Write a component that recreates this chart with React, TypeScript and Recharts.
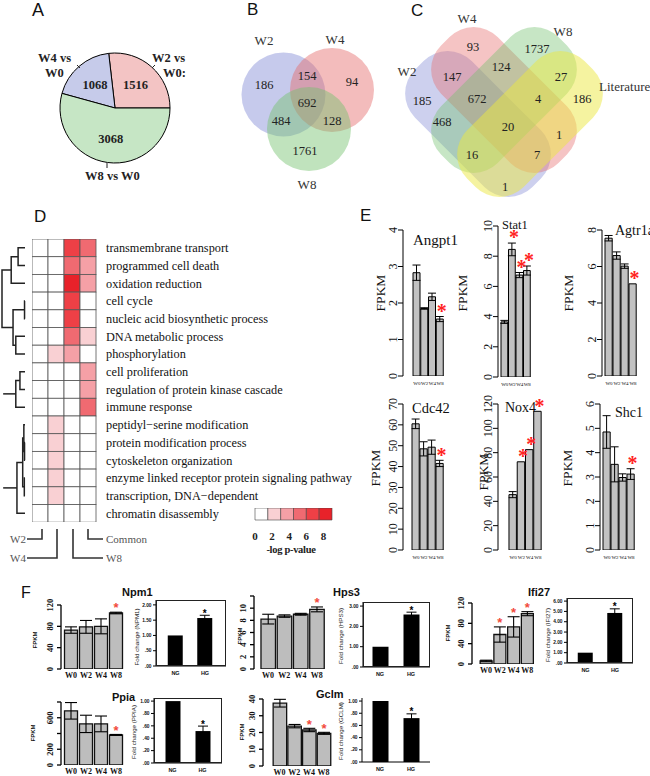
import React from "react";
import {
  PieChart, Pie, Cell, BarChart, Bar, XAxis, YAxis, ErrorBar, LabelList,
  ScatterChart, Scatter,
} from "recharts";

const SERIF = "'Liberation Serif', 'Times New Roman', serif";
const SANS = "'Liberation Sans', Arial, sans-serif";

// ---------- A: DEG counts per comparison
const pieNames = ["W2 vs W0", "W4 vs W0", "W8 vs W0"];
const pieValues = [1516, 1068, 3068];
const pieColors = ["#f3c4c4", "#c6cbea", "#c6e6c5"];

// ---------- B: 3-set venn
const vennBSets = ["W2", "W4", "W8"];
const vennBColors = ["#8189d5", "#e56b6b", "#73c16d"];
const vennBRegions = ["W2", "W2 W4", "W4", "W2 W4 W8", "W2 W8", "W4 W8", "W8"];
const vennBCounts = [186, 154, 94, 692, 484, 128, 1761];

// ---------- C: 4-set venn
const vennCSets = ["W2", "W4", "W8", "Literature"];
const vennCColors = ["#8189d5", "#e56b6b", "#73c16d", "#ebe741"];
const vennCRegions = [
  "W4", "W8", "W4 W8", "W2 W4", "W8 Lit", "W2", "W2 W4 W8", "W4 W8 Lit",
  "Lit", "W2 W8", "all", "W4 Lit", "W2 W8 Lit", "W2 W4 Lit", "W2 Lit",
];
const vennCCounts = [93, 1737, 124, 147, 27, 185, 672, 4, 186, 468, 20, 1, 16, 7, 1];

// ---------- D: GO enrichment (-log p)
const goTerms = [
  "transmembrane transport",
  "programmed cell death",
  "oxidation reduction",
  "cell cycle",
  "nucleic acid biosynthetic process",
  "DNA metabolic process",
  "phosphorylation",
  "cell proliferation",
  "regulation of protein kinase cascade",
  "immune response",
  "peptidyl\u2212serine modification",
  "protein modification process",
  "cytoskeleton organization",
  "enzyme linked receptor protein signaling pathway",
  "transcription, DNA\u2212dependent",
  "chromatin disassembly",
];
const goColumns = ["W2", "W4", "W8", "Common"];
const goW2 = [0, 0, 0, 0, 0, 0, 0, 0, 0, 0, 0, 0, 0, 0, 0, 0];
const goW4 = [0, 0, 0, 0, 0, 0, 2, 0, 0, 0, 2, 2, 2, 2, 2, 0];
const goW8 = [7, 5.5, 8.5, 7, 7, 5.5, 4, 0, 0, 0, 0, 0, 0, 0, 0, 0];
const goCommon = [5.5, 4, 4, 0, 0, 2, 0, 4, 4, 5.5, 0, 0, 0, 0, 0, 0];
const heatBreaks = [0, 1.5, 3, 4.5, 6, 7.5, 9];
const heatColors = ["#ffffff", "#f9d0d3", "#f5a0a6", "#f06a71", "#ee4046", "#e8222a"];
const legendTicks = [0, 2, 4, 6, 8];
// hclust-style merges: negative = row, positive = earlier merge; third = height
const dendroMerges = [
  [-1, -2, 0.3], [1, -3, 0.6], [-4, -5, 0.02], [-6, -7, 0.4], [3, 4, 0.52], [2, 5, 1.0],
  [-8, -9, 0.22], [7, -10, 0.4],
  [-12, -13, 0.02], [-14, -15, 0.03], [-11, 9, 0.05], [11, 10, 0.1], [12, -16, 0.35],
];
const dendroStems = [[8, 0.95], [13, 0.95]];

// ---------- E: FPKM bars
const eCats = ["W0", "W2", "W4", "W8"];
const angpt1 = [2.83, 1.85, 2.17, 1.56];
const angpt1Err = [0.21, 0.02, 0.1, 0.07];
const angpt1Sig = [0, 0, 0, 1];
const stat1 = [3.65, 8.45, 6.75, 7.05];
const stat1Err = [0.1, 0.42, 0.17, 0.3];
const stat1Sig = [0, 1, 1, 1];
const agtr1a = [7.55, 6.6, 6.02, 5.05];
const agtr1aErr = [0.15, 0.2, 0.12, 0];
const agtr1aSig = [0, 0, 0, 1];
const cdc42 = [60.5, 48.5, 49.3, 41.5];
const cdc42Err = [2.3, 3.4, 3.4, 1.5];
const cdc42Sig = [0, 0, 0, 1];
const nox4 = [45.5, 72.5, 82.5, 114];
const nox4Err = [2.5, 0, 0, 0];
const nox4Sig = [0, 1, 1, 1];
const shc1 = [4.85, 3.52, 2.98, 3.12];
const shc1Err = [0.67, 0.72, 0.15, 0.22];
const shc1Sig = [0, 0, 0, 1];

// ---------- F: FPKM + qPCR fold change
const fCats = ["W0", "W2", "W4", "W8"];
const npm1 = [73, 79, 80, 105];
const npm1Err = [6, 12, 14, 1.5];
const npm1Sig = [0, 0, 0, 1];
const hps3 = [8.2, 8.7, 9.0, 9.8];
const hps3Err = [0.8, 0.2, 0.15, 0.4];
const hps3Sig = [0, 0, 0, 1];
const ifi27 = [6, 58, 73, 99];
const ifi27Err = [1.5, 15, 20, 4];
const ifi27Sig = [0, 1, 1, 1];
const ppia = [688, 522, 522, 382];
const ppiaErr = [105, 110, 100, 6];
const ppiaSig = [0, 0, 0, 1];
const gclm = [37.5, 23.8, 21.5, 19.5];
const gclmErr = [2.3, 1, 1, 0.6];
const gclmSig = [0, 0, 1, 1];

const foldCats = ["NG", "HG"];
const npm1Fold = [1, 1.57];
const npm1FoldErr = [0, 0.09];
const hps3Fold = [1, 2.58];
const hps3FoldErr = [0, 0.12];
const ifi27Fold = [1, 4.85];
const ifi27FoldErr = [0, 0.4];
const ppiaFold = [1, 0.516];
const ppiaFoldErr = [0, 0.08];
const gclmFold = [1, 0.72];
const gclmFoldErr = [0, 0.07];
const foldSig = [0, 1];

// ---------- layout (page px)
const VB_CIRCLES = [[283.5, 94.5], [332, 90], [309, 129]];
const VB_R = 42;
const VB_COUNT_POS = [[264, 85], [307, 76], [352, 82], [307, 103], [281, 121], [332, 121], [305, 151]];
const VC_SHAPES = [[478, 124, 45], [504, 100, 45], [504, 100, -45], [530, 124, -45]];
const VC_COUNT_POS = [
  [473, 47], [537, 49], [501, 67], [452, 77], [561, 77], [422, 101], [477, 99], [538, 99],
  [582, 99], [442, 122], [508, 127], [559, 135], [472, 155], [537, 155], [505, 187],
];
const CELL_W = 16;
const CELL_H = 17.7;

const heatColor = (v: number) => {
  let i = 0;
  while (i < heatColors.length - 1 && v >= heatBreaks[i + 1]) i++;
  return heatColors[i];
};

const abs = (left: number, top: number): React.CSSProperties => ({ position: "absolute", left, top });

function PanelA() {
  const data = pieValues.map((v, i) => ({ name: pieNames[i], value: v }));
  const RAD = Math.PI / 180;
  const label = (p: any) => {
    const r = p.outerRadius * 0.56;
    const x = p.cx + r * Math.cos(-p.midAngle * RAD);
    const y = p.cy + r * Math.sin(-p.midAngle * RAD);
    return (
      <text x={x} y={y} textAnchor="middle" dominantBaseline="central" fontFamily={SERIF}
        fontWeight="bold" fontSize={12.5} fill="#222">{p.value}</text>
    );
  };
  return (
    <div style={abs(55, 48)}>
      <PieChart width={120} height={120} margin={{ top: 0, right: 0, bottom: 0, left: 0 }}>
        <Pie data={data} dataKey="value" nameKey="name" cx={60} cy={60} outerRadius={55}
          startAngle={0} endAngle={360} stroke="#000" strokeWidth={1} labelLine={false}
          label={label} isAnimationActive={false}>
          {data.map((_, i) => <Cell key={i} fill={pieColors[i]} />)}
        </Pie>
      </PieChart>
    </div>
  );
}

function VennB() {
  const sets = vennBSets.map((s, i) => ({ x: VB_CIRCLES[i][0], y: VB_CIRCLES[i][1], set: s, color: vennBColors[i] }));
  const counts = vennBCounts.map((n, i) => ({ x: VB_COUNT_POS[i][0], y: VB_COUNT_POS[i][1], n, region: vennBRegions[i] }));
  return (
    <div style={abs(220, 0)}>
      <ScatterChart width={180} height={210} margin={{ top: 0, right: 0, bottom: 0, left: 0 }}>
        <XAxis type="number" dataKey="x" domain={[220, 400]} hide />
        <YAxis type="number" dataKey="y" domain={[0, 210]} reversed hide />
        <Scatter data={sets} isAnimationActive={false}
          shape={(p: any) => <circle cx={p.cx} cy={p.cy} r={VB_R} fill={p.payload.color} fillOpacity={0.45} />} />
        <Scatter data={counts} isAnimationActive={false}
          shape={(p: any) => (
            <text x={p.cx} y={p.cy} textAnchor="middle" dominantBaseline="central" fontFamily={SERIF}
              fontSize={12.5} fill="#222">{p.payload.n}</text>
          )} />
      </ScatterChart>
    </div>
  );
}

function VennC() {
  const sets = vennCSets.map((s, i) => ({ x: VC_SHAPES[i][0], y: VC_SHAPES[i][1], a: VC_SHAPES[i][2], set: s, color: vennCColors[i] }));
  const counts = vennCCounts.map((n, i) => ({ x: VC_COUNT_POS[i][0], y: VC_COUNT_POS[i][1], n, region: vennCRegions[i] }));
  return (
    <div style={abs(380, 0)}>
      <ScatterChart width={270} height={220} margin={{ top: 0, right: 0, bottom: 0, left: 0 }}>
        <XAxis type="number" dataKey="x" domain={[380, 650]} hide />
        <YAxis type="number" dataKey="y" domain={[0, 220]} reversed hide />
        <Scatter data={sets} isAnimationActive={false}
          shape={(p: any) => (
            <rect x={-83} y={-40} width={166} height={80} rx={34} ry={34}
              transform={`translate(${p.cx},${p.cy}) rotate(${p.payload.a})`}
              fill={p.payload.color} fillOpacity={p.payload.set === "Literature" ? 0.5 : 0.4} />
          )} />
        <Scatter data={counts} isAnimationActive={false}
          shape={(p: any) => (
            <text x={p.cx} y={p.cy} textAnchor="middle" dominantBaseline="central" fontFamily={SERIF}
              fontSize={12.5} fill="#222">{p.payload.n}</text>
          )} />
      </ScatterChart>
    </div>
  );
}

function PanelD() {
  const cols = [goW2, goW4, goW8, goCommon];
  const cells = goTerms.flatMap((t, r) => goColumns.map((c, ci) => ({ r, c: ci, term: t, col: c, v: cols[ci][r] })));
  const plotH = goTerms.length * CELL_H;
  const plotW = goColumns.length * CELL_W;

  const pos: { y: number; h: number }[] = [];
  const get = (k: number) => (k < 0 ? { y: -k - 1, h: 0 } : pos[k - 1]);
  const links = dendroMerges.map(([a, b, h]) => {
    const A = get(a);
    const B = get(b);
    pos.push({ y: (A.y + B.y) / 2, h });
    return [{ h: A.h, y: A.y }, { h, y: A.y }, { h, y: B.y }, { h: B.h, y: B.y }];
  });
  dendroStems.forEach(([k, h]) => {
    const N = pos[k - 1];
    links.push([{ h: N.h, y: N.y }, { h, y: N.y }]);
  });

  const legendRow: any = { k: "scale" };
  heatColors.forEach((_, i) => { legendRow[`b${i}`] = heatBreaks[i + 1] - heatBreaks[i]; });

  const termTick = (tp: any) => (
    <text x={tp.x} y={tp.y} dy="0.35em" textAnchor="start" fontFamily={SERIF} fontSize={12.3} fill="#111">
      {goTerms[tp.payload.value]}
    </text>
  );

  return (
    <>
      <div style={abs(0, 239)}>
        <ScatterChart width={28} height={plotH} margin={{ top: 0, right: 3, bottom: 0, left: 2 }}>
          <XAxis type="number" dataKey="h" domain={[0, 1]} reversed hide />
          <YAxis type="number" dataKey="y" domain={[-0.5, goTerms.length - 0.5]} reversed hide />
          {links.map((l, i) => (
            <Scatter key={i} data={l} line={{ stroke: "#222", strokeWidth: 1.5 }}
              shape={() => <g />} isAnimationActive={false} />
          ))}
        </ScatterChart>
      </div>
      <div style={abs(32, 239)}>
        <ScatterChart width={plotW + 290} height={plotH} margin={{ top: 0, right: 0, bottom: 0, left: 0 }}>
          <XAxis type="number" dataKey="c" domain={[-0.5, goColumns.length - 0.5]} hide />
          <YAxis type="number" dataKey="r" domain={[-0.5, goTerms.length - 0.5]} reversed
            orientation="right" width={290} ticks={goTerms.map((_, i) => i)} interval={0}
            axisLine={false} tickLine={false} tickSize={0} tickMargin={10} tick={termTick} />
          <Scatter data={cells} isAnimationActive={false}
            shape={(p: any) => (
              <rect x={p.cx - CELL_W / 2} y={p.cy - CELL_H / 2} width={CELL_W} height={CELL_H}
                fill={heatColor(p.payload.v)} stroke="#555" strokeWidth={0.8} />
            )} />
        </ScatterChart>
      </div>
      <div style={abs(245, 508)}>
        <BarChart width={97} height={50} layout="vertical" data={[legendRow]} barCategoryGap={0}
          margin={{ top: 0, right: 10, bottom: 0, left: 10 }}>
          <XAxis type="number" domain={[heatBreaks[0], heatBreaks[heatBreaks.length - 1]]} ticks={legendTicks}
            interval={0} height={38} axisLine={false} tickLine={false} tickSize={0} tickMargin={12}
            tick={{ fontSize: 11, fontFamily: SERIF, fontWeight: "bold", fill: "#222" }} />
          <YAxis type="category" dataKey="k" hide />
          {heatColors.map((c, i) => (
            <Bar key={i} dataKey={`b${i}`} stackId="l" fill={c} stroke="#444" strokeWidth={0.6}
              isAnimationActive={false} />
          ))}
        </BarChart>
      </div>
    </>
  );
}

type Kind = "R" | "F" | "fold";
const STY: Record<Kind, any> = {
  R: { fill: "#c2c2c2", stroke: "#000", sw: 1, cap: 4, errW: 1, tickSize: 5, tickMargin: 1, tickFont: SERIF,
    tickFs: 12, tickBold: "normal", rotate: true, xFs: 5, xFont: SERIF, xBold: "normal", xMargin: 5,
    xLine: false, starColor: "#ff2222", starFs: 20, starFont: SERIF, starOff: 0.47, starDX: 2, starGap: 8, axisW: 1 },
  F: { fill: "#bdbdbd", stroke: "#111", sw: 1.3, cap: 6, errW: 1.1, tickSize: 4, tickMargin: 4, tickFont: SERIF,
    tickFs: 8.5, tickBold: "bold", rotate: true, xFs: 8, xFont: SERIF, xBold: "bold", xMargin: 3,
    xLine: false, starColor: "#f24a3c", starFs: 13, starFont: SANS, starOff: 0.56, starDX: 0, starGap: 7, axisW: 1.3 },
  fold: { fill: "#000", stroke: "#000", sw: 0, cap: 5, errW: 1, tickSize: 3, tickMargin: 1.5, tickFont: SANS,
    tickFs: 4.8, tickBold: "bold", rotate: false, xFs: 5.5, xFont: SANS, xBold: "bold", xMargin: 5,
    xLine: true, starColor: "#000", starFs: 10, starFont: SANS, starOff: 0.56, starDX: 0, starGap: 4, axisW: 1 },
};

const fmtFold = (v: number) => {
  const s = v.toFixed(2);
  return v < 1 ? s.slice(1) : s;
};

const ML = 44, MT = 40, MR = 20, MB = 22;

function BarPanel(p: any) {
  const st = STY[p.kind as Kind];
  const n = p.cats.length;
  const plotW = p.rightX - p.axisX;
  const plotH = p.zeroY - p.topY;
  const padL = p.c0 - p.step / 2 - p.axisX;
  const padR = plotW - padL - n * p.step;
  const ppu = plotH / p.yTop;
  const data = p.cats.map((c: string, i: number) => ({ name: c, value: p.values[i], err: p.errs[i], sig: p.sig[i] }));

  const yTick = (tp: any) => {
    const v = tp.payload.value;
    if (p.shown && !p.shown.includes(v)) return <g />;
    const label = p.kind === "fold" ? fmtFold(v) : String(v);
    if (st.rotate) {
      return (
        <text x={tp.x} y={tp.y} transform={`rotate(-90 ${tp.x} ${tp.y})`} textAnchor="middle"
          fontFamily={st.tickFont} fontSize={st.tickFs} fontWeight={st.tickBold} fill="#111">{label}</text>
      );
    }
    return (
      <text x={tp.x} y={tp.y} dy="0.35em" textAnchor="end" fontFamily={st.tickFont} fontSize={st.tickFs}
        fontWeight={st.tickBold} fill="#111">{label}</text>
    );
  };

  const star = (lp: any) => {
    if (!lp.value) return null;
    const d = data[lp.index];
    const cx = lp.x + lp.width / 2 + st.starDX;
    const cy = lp.y - d.err * ppu - st.starGap;
    return (
      <text x={cx} y={cy + st.starOff * st.starFs} textAnchor="middle" fontFamily={st.starFont}
        fontSize={st.starFs} fontWeight="bold" fill={st.starColor}>*</text>
    );
  };

  return (
    <div style={abs(p.axisX - ML, p.topY - MT)}>
      <BarChart width={ML + plotW + MR} height={MT + plotH + MB} data={data}
        margin={{ top: MT, right: MR, left: 0, bottom: 0 }}>
        <XAxis dataKey="name" type="category" padding={{ left: padL, right: padR }} height={MB} interval={0}
          axisLine={st.xLine ? { stroke: "#000", strokeWidth: st.axisW } : false} tickLine={false}
          tickSize={0} tickMargin={st.xMargin}
          tick={{ fontSize: st.xFs, fontFamily: st.xFont, fontWeight: st.xBold, fill: "#111" }} />
        <YAxis type="number" domain={[0, p.yTop]} ticks={p.ticks} interval={0} allowDataOverflow width={ML}
          axisLine={{ stroke: "#000", strokeWidth: st.axisW }} tickLine={{ stroke: "#000", strokeWidth: st.axisW }}
          tickSize={st.tickSize} tickMargin={st.tickMargin} tick={yTick} />
        <Bar dataKey="value" barSize={p.barW} fill={st.fill} stroke={st.stroke} strokeWidth={st.sw}
          isAnimationActive={false}>
          <ErrorBar dataKey="err" width={st.cap} stroke="#000" strokeWidth={st.errW} direction="y" />
          <LabelList dataKey="sig" content={star} />
        </Bar>
      </BarChart>
      {p.box && (
        <div style={{ position: "absolute", left: ML, top: MT, width: plotW, height: plotH,
          border: "1px solid #222", boxSizing: "border-box", pointerEvents: "none" }} />
      )}
    </div>
  );
}

function Overlay() {
  const rot = (x: number, y: number, t: string, fs: number, font: string, weight = "normal", fill = "#111") => (
    <text x={x} y={y} transform={`rotate(-90 ${x} ${y})`} textAnchor="middle" dominantBaseline="central"
      fontFamily={font} fontSize={fs} fontWeight={weight} fill={fill}>{t}</text>
  );
  return (
    <svg width={650} height={776} style={{ position: "absolute", left: 0, top: 0, pointerEvents: "none" }}>
      <g fontFamily={SANS} fontSize={17} fill="#111">
        <text x={32} y={16} fontSize={18}>A</text>
        <text x={247} y={15}>B</text>
        <text x={411} y={16}>C</text>
        <text x={34} y={222}>D</text>
        <text x={360} y={221}>E</text>
        <text x={21} y={598} fontSize={16}>F</text>
      </g>
      <g fontFamily={SERIF} fontSize={12.5} fontWeight="bold" fill="#222">
        <text x={38} y={62}>W4 vs</text>
        <text x={45} y={77}>W0</text>
        <text x={152} y={62}>W2 vs</text>
        <text x={163} y={77}>W0:</text>
        <text x={85} y={180}>W8 vs W0</text>
      </g>
      <g stroke="#222" strokeWidth={1}>
        <line x1={77} y1={65} x2={80} y2={68} />
        <line x1={152} y1={68} x2={155} y2={65} />
        <line x1={107} y1={163} x2={107} y2={168} />
      </g>
      <g fontFamily={SERIF} fontSize={13} fill="#333" textAnchor="middle">
        <text x={264} y={45}>W2</text>
        <text x={335} y={44}>W4</text>
        <text x={307} y={189}>W8</text>
        <text x={467} y={23}>W4</text>
        <text x={563} y={36}>W8</text>
        <text x={407} y={76}>W2</text>
        <text x={599} y={91} textAnchor="start">Literature</text>
      </g>
      <g stroke="#333" strokeWidth={1.6} fill="none">
        <path d="M27 539 H42 V529" />
        <path d="M27 558 H57 V529" />
        <path d="M73 529 V558 H103" />
        <path d="M88 529 V539 H103" />
      </g>
      <g fontFamily={SERIF} fontSize={11} fill="#555">
        <text x={26} y={543} textAnchor="end">W2</text>
        <text x={26} y={562} textAnchor="end">W4</text>
        <text x={106} y={562}>W8</text>
        <text x={106} y={543}>Common</text>
      </g>
      <text x={291} y={553} textAnchor="middle" fontFamily={SERIF} fontSize={10.5} fontWeight="bold"
        letterSpacing={-0.3} fill="#222">-log p-value</text>
      <g fontFamily={SERIF} fill="#111">
        <text x={413} y={245} fontSize={15}>Angpt1</text>
        <text x={502} y={229} fontSize={12.5}>Stat1</text>
        <text x={615} y={235} fontSize={14}>Agtr1a</text>
        <text x={412} y={413} fontSize={14.5}>Cdc42</text>
        <text x={505} y={412} fontSize={14}>Nox4</text>
        <text x={615} y={417} fontSize={14}>Shc1</text>
      </g>
      {rot(380, 293, "FPKM", 13.5, SERIF)}
      {rot(462, 293, "FPKM", 13.5, SERIF)}
      {rot(568, 293, "FPKM", 13.5, SERIF)}
      {rot(375, 468, "FPKM", 13.5, SERIF)}
      {rot(483, 472, "FPKM", 13.5, SERIF)}
      {rot(567, 468, "FPKM", 13.5, SERIF)}
      <g fontFamily={SANS} fontSize={11} fontWeight="bold" fill="#111">
        <text x={122} y={596}>Npm1</text>
        <text x={333} y={596}>Hps3</text>
        <text x={528} y={596}>Ifi27</text>
        <text x={112} y={701}>Ppia</text>
        <text x={316} y={698}>Gclm</text>
      </g>
      {rot(35, 640, "FPKM", 6, SANS, "bold")}
      {rot(240, 636, "FPKM", 6, SANS, "bold")}
      {rot(448, 633, "FPKM", 6, SANS, "bold")}
      {rot(33, 733, "FPKM", 6, SANS, "bold")}
      {rot(242, 732, "FPKM", 6, SANS, "bold")}
      {rot(136, 637, "Fold change (NPM1)", 6.2, SANS, "normal", "#222")}
      {rot(340, 636, "Fold change (HPS3)", 6.2, SANS, "normal", "#222")}
      {rot(547, 635, "Fold change (IFI27)", 6.2, SANS, "normal", "#222")}
      {rot(133, 732, "Fold change (PPIA)", 6.2, SANS, "normal", "#222")}
      {rot(340, 731, "Fold change (GCLM)", 6.2, SANS, "normal", "#222")}
    </svg>
  );
}

export default function App() {
  return (
    <div style={{ position: "absolute", left: 0, top: 0, width: 650, height: 776, background: "#fff", overflow: "hidden" }}>
      <PanelA />
      <VennB />
      <VennC />
      <PanelD />

      <BarPanel kind="R" cats={eCats} values={angpt1} errs={angpt1Err} sig={angpt1Sig} yTop={4} ticks={[0, 1, 2, 3, 4]}
        axisX={403} topY={230} zeroY={376} c0={416.9} step={7.75} barW={7.75} rightX={450} />
      <BarPanel kind="R" cats={eCats} values={stat1} errs={stat1Err} sig={stat1Sig} yTop={10} ticks={[0, 2, 4, 6, 8, 10]}
        axisX={498} topY={226} zeroY={377} c0={504.75} step={7.5} barW={7.5} rightX={536} />
      <BarPanel kind="R" cats={eCats} values={agtr1a} errs={agtr1aErr} sig={agtr1aSig} yTop={8} ticks={[0, 2, 4, 6, 8]}
        axisX={602} topY={230} zeroY={376} c0={609} step={8} barW={8} rightX={642} />
      <BarPanel kind="R" cats={eCats} values={cdc42} errs={cdc42Err} sig={cdc42Sig} yTop={70}
        ticks={[0, 10, 20, 30, 40, 50, 60, 70]}
        axisX={403} topY={404} zeroY={550} c0={416} step={8} barW={8} rightX={450} />
      <BarPanel kind="R" cats={eCats} values={nox4} errs={nox4Err} sig={nox4Sig} yTop={120}
        ticks={[0, 20, 40, 60, 80, 100, 120]}
        axisX={498} topY={404} zeroY={550} c0={513.1} step={8.25} barW={8.25} rightX={546} />
      <BarPanel kind="R" cats={eCats} values={shc1} errs={shc1Err} sig={shc1Sig} yTop={6} ticks={[0, 1, 2, 3, 4, 5, 6]}
        axisX={600} topY={404} zeroY={550} c0={607} step={8} barW={8} rightX={640} />

      <BarPanel kind="F" cats={fCats} values={npm1} errs={npm1Err} sig={npm1Sig} yTop={120} ticks={[0, 40, 80, 120]}
        axisX={61} topY={605} zeroY={669} c0={71} step={15} barW={13} rightX={125} />
      <BarPanel kind="fold" cats={foldCats} values={npm1Fold} errs={npm1FoldErr} sig={foldSig} yTop={2.16}
        ticks={[0, 0.5, 1, 1.5, 2]} box
        axisX={156} topY={600} zeroY={666} c0={175.5} step={29.5} barW={15} rightX={226} />
      <BarPanel kind="F" cats={fCats} values={hps3} errs={hps3Err} sig={hps3Sig} yTop={12}
        ticks={[0, 2, 4, 6, 8, 10, 12]} shown={[0, 2, 4, 6, 8, 10]}
        axisX={254} topY={596} zeroY={669} c0={268.1} step={16.25} barW={14.5} rightX={328} />
      <BarPanel kind="fold" cats={foldCats} values={hps3Fold} errs={hps3FoldErr} sig={foldSig} yTop={3.2}
        ticks={[0, 1, 2, 3]} box
        axisX={363} topY={602} zeroY={667} c0={380} step={31} barW={16} rightX={430} />
      <BarPanel kind="F" cats={fCats} values={ifi27} errs={ifi27Err} sig={ifi27Sig} yTop={120} ticks={[0, 40, 80, 120]}
        axisX={472} topY={603} zeroY={664} c0={486} step={13.75} barW={12} rightX={537} />
      <BarPanel kind="fold" cats={foldCats} values={ifi27Fold} errs={ifi27FoldErr} sig={foldSig} yTop={6.3}
        ticks={[0, 1, 2, 3, 4, 5, 6]} box
        axisX={567} topY={598} zeroY={663} c0={585.5} step={29.5} barW={15} rightX={633} />
      <BarPanel kind="F" cats={fCats} values={ppia} errs={ppiaErr} sig={ppiaSig} yTop={800}
        ticks={[0, 200, 400, 600, 800]} shown={[0, 200, 600]}
        axisX={61} topY={702} zeroY={765} c0={71} step={15} barW={13} rightX={125} />
      <BarPanel kind="fold" cats={foldCats} values={ppiaFold} errs={ppiaFoldErr} sig={foldSig} yTop={1.05}
        ticks={[0, 0.2, 0.4, 0.6, 0.8, 1]} box
        axisX={154} topY={698} zeroY={763} c0={172.5} step={30} barW={15} rightX={222} />
      <BarPanel kind="F" cats={fCats} values={gclm} errs={gclmErr} sig={gclmSig} yTop={40} ticks={[0, 10, 20, 30, 40]}
        axisX={263} topY={699} zeroY={766} c0={279.5} step={14.7} barW={13.5} rightX={333} />
      <BarPanel kind="fold" cats={foldCats} values={gclmFold} errs={gclmFoldErr} sig={foldSig} yTop={1.05}
        ticks={[0, 0.2, 0.4, 0.6, 0.8, 1]}
        axisX={362} topY={698} zeroY={762} c0={380} step={31} barW={16} rightX={430} />

      <Overlay />
    </div>
  );
}
